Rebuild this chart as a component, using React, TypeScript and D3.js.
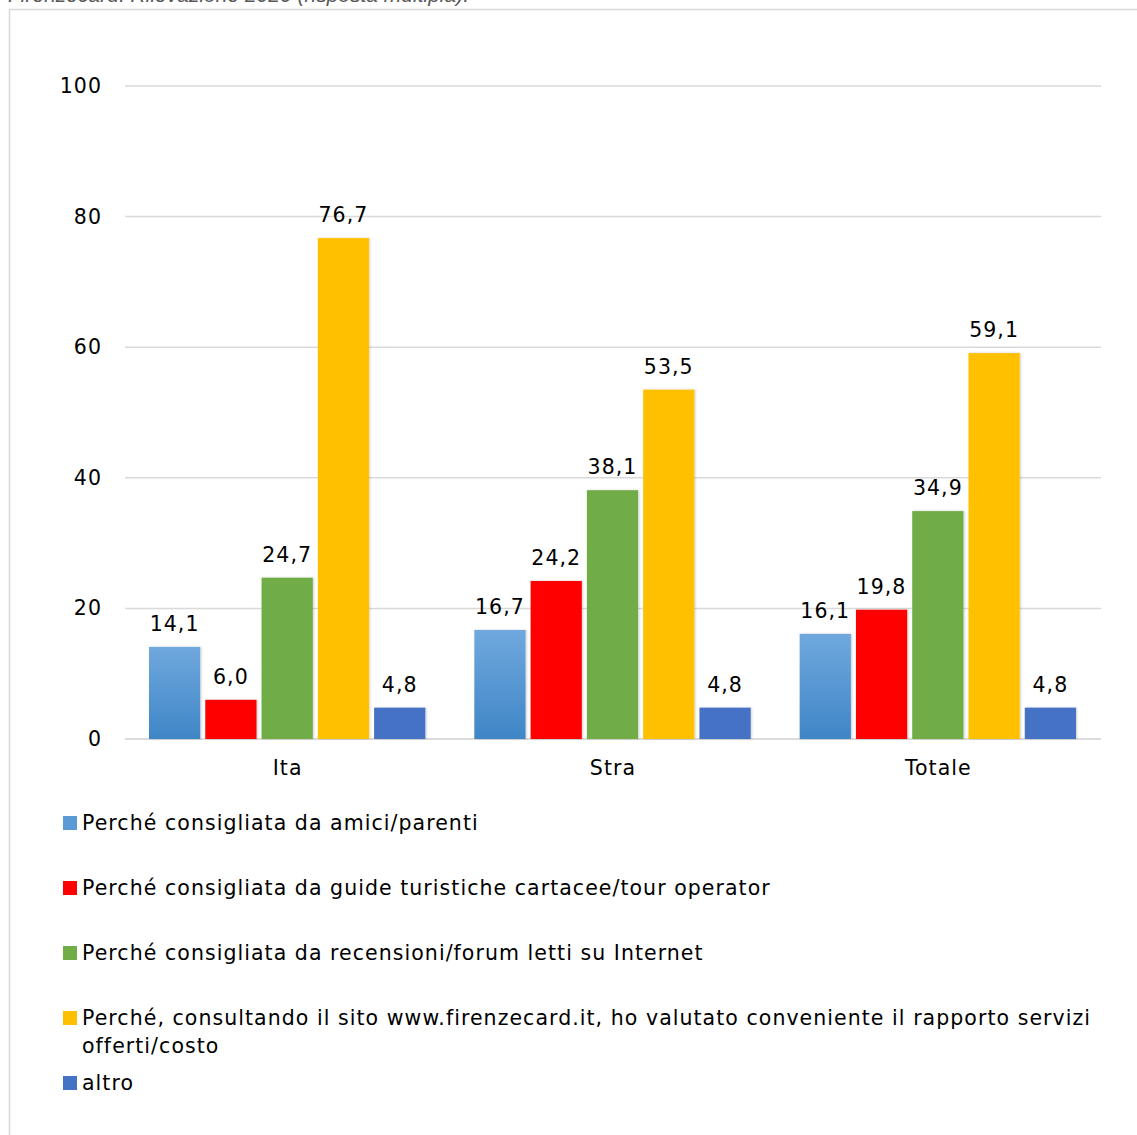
import React from "react";
import * as d3 from "d3";

const categories = ["Ita", "Stra", "Totale"];
const seriesNames = [
  "Perché consigliata da amici/parenti",
  "Perché consigliata da guide turistiche cartacee/tour operator",
  "Perché consigliata da recensioni/forum letti su Internet",
  "Perché, consultando il sito www.firenzecard.it, ho valutato conveniente il rapporto servizi offerti/costo",
  "altro",
];
const amici = [14.1, 16.7, 16.1];
const guide = [6.0, 24.2, 19.8];
const recensioni = [24.7, 38.1, 34.9];
const sito = [76.7, 53.5, 59.1];
const altro = [4.8, 4.8, 4.8];
const seriesValues = [amici, guide, recensioni, sito, altro];
const yTicks = [0, 20, 40, 60, 80, 100];
const colors = ["url(#gradBlue)", "#FF0000", "#70AD47", "#FFC000", "#4472C4"];
const legendColors = ["#5B9BD5", "#FF0000", "#70AD47", "#FFC000", "#4472C4"];
const legendLines = [
  [seriesNames[0]],
  [seriesNames[1]],
  [seriesNames[2]],
  ["Perché, consultando il sito www.firenzecard.it, ho valutato conveniente il rapporto servizi", "offerti/costo"],
  [seriesNames[4]],
];
const caption = "Firenzecard. Rilevazione 2020 (risposta multipla).";

const W = 1137;
const H = 1135;
const font = "Verdana, 'DejaVu Sans', sans-serif";
const ls = 1.05;

export default function App() {
  const left = 125;
  const right = 1101;
  const y = d3.scaleLinear().domain([0, 100]).range([739, 86]);
  const x0 = d3.scaleBand<string>().domain(categories).range([left, right]).paddingInner(0).paddingOuter(0);
  const x1 = d3
    .scaleBand<number>()
    .domain(d3.range(seriesValues.length))
    .range([24, x0.bandwidth() - 25])
    .paddingInner(0.09)
    .paddingOuter(0);
  const fmt = (v: number) => v.toFixed(1).replace(".", ",");
  const legendY = [830, 895, 960, 1025, 1090];

  return (
    <svg width={W} height={H} style={{ position: "absolute", left: 0, top: 0, background: "#fff" }}>
      <defs>
        <linearGradient id="gradBlue" x1="0" y1="0" x2="0" y2="1">
          <stop offset="0" stopColor="#70A8DE" />
          <stop offset="1" stopColor="#3F86C6" />
        </linearGradient>
        <filter id="shadow" x="-20%" y="-5%" width="140%" height="110%">
          <feDropShadow dx="1" dy="0" stdDeviation="1.2" floodColor="#000" floodOpacity="0.2" />
        </filter>
      </defs>
      <rect x={0} y={0} width={W} height={H} fill="#fff" />
      <text x={8} y={2} fontFamily="'Liberation Sans', Arial, sans-serif" fontStyle="italic" fontSize={21} fill="#595959">
        {caption}
      </text>
      <rect x={9.5} y={9.5} width={W + 20} height={H + 20} fill="none" stroke="#D9D9D9" strokeWidth={1.5} />
      {yTicks.map((t) => (
        <g key={t}>
          <line x1={left} x2={right} y1={y(t)} y2={y(t)} stroke={t === 0 ? "#D0D0D0" : "#D9D9D9"} strokeWidth={1.5} />
          <text x={102} y={y(t) + 7} textAnchor="end" fontFamily={font} fontSize={20.5} letterSpacing={ls} fill="#000">
            {t}
          </text>
        </g>
      ))}
      {categories.map((c, ci) => (
        <g key={c} transform={`translate(${x0(c)},0)`}>
          {seriesValues.map((vals, si) => {
            const bx = x1(si)!;
            const bw = x1.bandwidth();
            const v = vals[ci];
            return (
              <g key={si}>
                <rect x={bx} y={y(v)} width={bw} height={y(0) - y(v)} fill={colors[si]} filter="url(#shadow)" />
                <text x={bx + bw / 2} y={y(v) - 16} textAnchor="middle" fontFamily={font} fontSize={20.5} letterSpacing={ls} fill="#000">
                  {fmt(v)}
                </text>
              </g>
            );
          })}
          <text x={x0.bandwidth() / 2} y={775} textAnchor="middle" fontFamily={font} fontSize={20.5} letterSpacing={ls} fill="#000">
            {c}
          </text>
        </g>
      ))}
      {legendLines.map((lines, i) => (
        <g key={i}>
          <rect x={63} y={legendY[i] - 14} width={14} height={14} fill={legendColors[i]} />
          {lines.map((l, li) => (
            <text key={li} x={82} y={legendY[i] + li * 28} fontFamily={font} fontSize={20.5} letterSpacing={ls} fill="#000">
              {l}
            </text>
          ))}
        </g>
      ))}
    </svg>
  );
}
